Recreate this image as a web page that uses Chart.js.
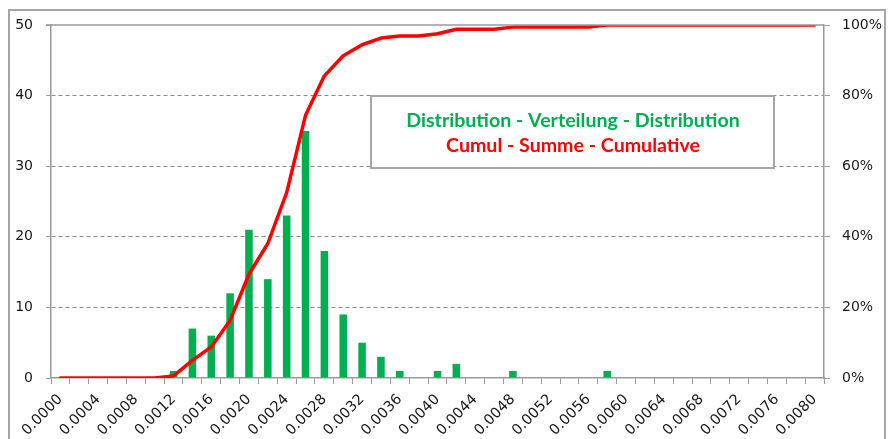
<!DOCTYPE html>
<html>
<head>
<meta charset="utf-8">
<script src="https://cdn.jsdelivr.net/npm/chart.js@4"></script>
<style>
  html, body { margin: 0; padding: 0; background: #fff; overflow: hidden; }
</style>
</head>
<body>
<canvas id="distChart" width="890" height="439"></canvas>
<script>
// class limits (0.0002 steps)
var categories = ['0.0000','0.0002','0.0004','0.0006','0.0008','0.0010','0.0012','0.0014','0.0016','0.0018',
                  '0.0020','0.0022','0.0024','0.0026','0.0028','0.0030','0.0032','0.0034','0.0036','0.0038',
                  '0.0040','0.0042','0.0044','0.0046','0.0048','0.0050','0.0052','0.0054','0.0056','0.0058',
                  '0.0060','0.0062','0.0064','0.0066','0.0068','0.0070','0.0072','0.0074','0.0076','0.0078',
                  '0.0080'];
// number of values per class
var counts = [0, 0, 0, 0, 0, 0, 1, 7, 6, 12,
              21, 14, 23, 35, 18, 9, 5, 3, 1, 0,
              1, 2, 0, 0, 1, 0, 0, 0, 0, 1,
              0, 0, 0, 0, 0, 0, 0, 0, 0, 0,
              0];
// cumulative share in %
var cumulative = [0, 0, 0, 0, 0, 0, 0.6, 5, 8.8, 16.3,
                  29.4, 38.1, 52.5, 74.4, 85.6, 91.3, 94.4, 96.3, 96.9, 96.9,
                  97.5, 98.8, 98.8, 98.8, 99.4, 99.4, 99.4, 99.4, 99.4, 100,
                  100, 100, 100, 100, 100, 100, 100, 100, 100, 100,
                  100];
var leftTicks = [0, 10, 20, 30, 40, 50];
var rightTicks = [0, 20, 40, 60, 80, 100];
var legendLines = ['Distribution - Verteilung - Distribution', 'Cumul - Summe - Cumulative'];

var green = '#00B050';
var red = '#FF0000';
var axisGrey = '#9a9a9a';
var tickFont = { family: 'DejaVu Sans', size: 14 };

var framePlugin = {
    id: 'frame',
    beforeDraw: function(chart) {
        var ctx = chart.ctx;
        ctx.save();
        ctx.strokeStyle = '#a6a6a6';
        ctx.lineWidth = 2;
        ctx.strokeRect(9, 10, 876, 460);
        ctx.restore();
    },
    afterDatasetsDraw: function(chart) {
        var ctx = chart.ctx;
        var a = chart.chartArea;
        ctx.save();
        // solid top line of the plot area
        ctx.strokeStyle = axisGrey;
        ctx.lineWidth = 1.5;
        ctx.beginPath();
        ctx.moveTo(a.left - 5, a.top);
        ctx.lineTo(a.right, a.top);
        ctx.stroke();
        // text box
        var bx = 371, by = 96, bw = 403, bh = 72;
        ctx.fillStyle = '#fff';
        ctx.fillRect(bx, by, bw, bh);
        ctx.strokeStyle = '#a6a6a6';
        ctx.lineWidth = 2;
        ctx.strokeRect(bx, by, bw, bh);
        ctx.font = 'bold 19.6px Lato';
        ctx.textAlign = 'center';
        ctx.textBaseline = 'alphabetic';
        ctx.fillStyle = green;
        ctx.fillText(legendLines[0], 573, 127);
        ctx.fillStyle = red;
        ctx.fillText(legendLines[1], 573, 152);
        ctx.restore();
    }
};

new Chart(document.getElementById('distChart'), {
    type: 'bar',
    data: {
        labels: categories,
        datasets: [
            { type: 'line', label: 'Cumul', data: cumulative, yAxisID: 'y1', borderColor: red, backgroundColor: red,
              borderWidth: 3.5, pointRadius: 0, tension: 0, borderCapStyle: 'round', borderJoinStyle: 'round', order: 0 },
            { type: 'bar', label: 'Distribution', data: counts, yAxisID: 'y', backgroundColor: green,
              barPercentage: 0.4, categoryPercentage: 1, order: 1 }
        ]
    },
    options: {
        responsive: false,
        maintainAspectRatio: false,
        animation: false,
        devicePixelRatio: 1,
        layout: { padding: { top: 25, left: 0, right: 0, bottom: 0 } },
        plugins: { legend: { display: false }, tooltip: { enabled: false } },
        scales: {
            x: {
                offset: true,
                grid: { offset: true, drawOnChartArea: false, drawTicks: true, tickLength: 6, tickColor: axisGrey, tickWidth: 1 },
                border: { display: true, color: axisGrey, width: 1.5 },
                ticks: { autoSkip: false, maxRotation: 45, minRotation: 45, font: { family: 'DejaVu Sans', size: 14.5 }, color: '#1a1a1a', padding: 7,
                         callback: function(v, i) { return i % 2 === 0 ? categories[i] : ''; } },
                afterFit: function(s) { s.height = 61; }
            },
            y: {
                position: 'left',
                min: 0, max: 50,
                afterBuildTicks: function(s) { s.ticks = leftTicks.map(function(v) { return { value: v }; }); },
                grid: { color: function(c) { return (c.tick && (c.tick.value === 0 || c.tick.value === 50)) ? 'rgba(0,0,0,0)' : '#8a8a8a'; },
                        lineWidth: 1, drawTicks: true, tickLength: 5, tickColor: axisGrey },
                border: { display: true, color: axisGrey, width: 1.5, dash: [4, 3] },
                ticks: { font: tickFont, color: '#1a1a1a', padding: 13 },
                afterFit: function(s) { s.width = 51; }
            },
            y1: {
                position: 'right',
                min: 0, max: 100,
                afterBuildTicks: function(s) { s.ticks = rightTicks.map(function(v) { return { value: v }; }); },
                grid: { drawOnChartArea: false, drawTicks: true, tickLength: 6, tickColor: axisGrey },
                border: { display: true, color: axisGrey, width: 1.5 },
                ticks: { font: tickFont, color: '#1a1a1a', padding: 12, callback: function(v) { return v + '%'; } },
                afterFit: function(s) { s.width = 66; }
            }
        }
    },
    plugins: [framePlugin]
});
</script>
</body>
</html>
